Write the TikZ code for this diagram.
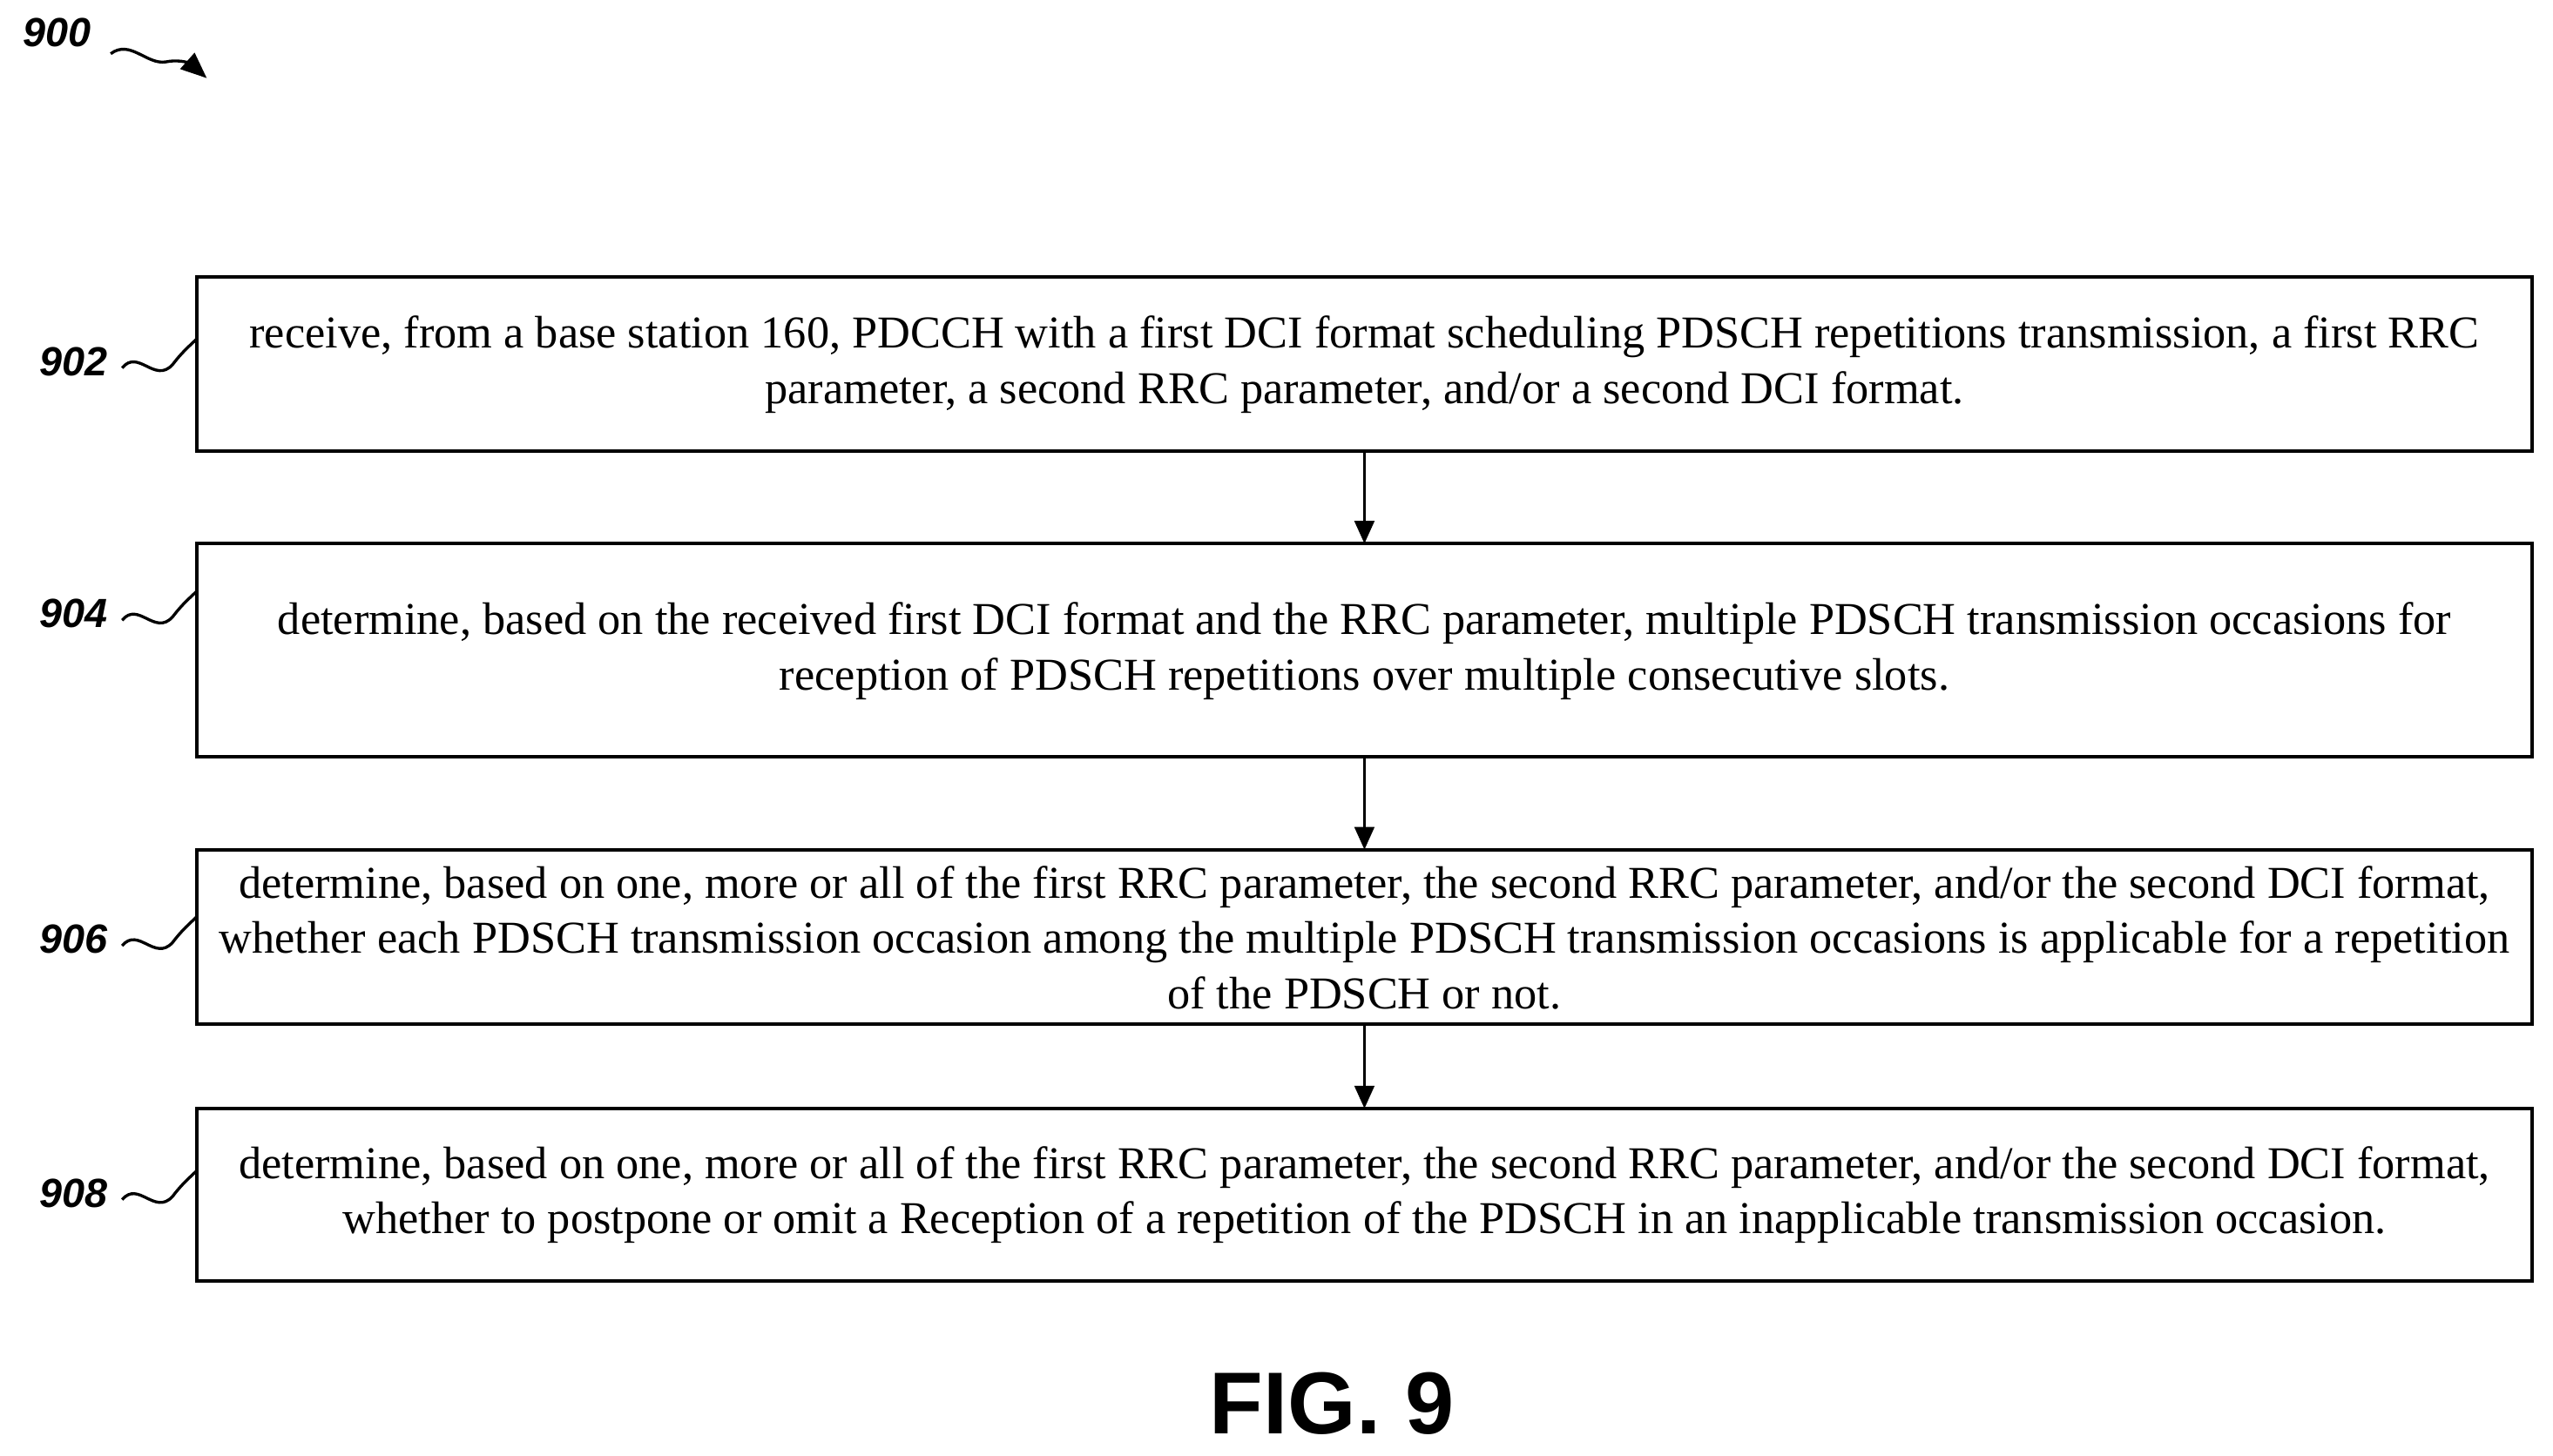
\documentclass[tikz,border=0pt]{standalone}
\usepackage{fontspec}
\setmainfont{Liberation Serif}
\newfontfamily\lab{Liberation Sans}
\usetikzlibrary{arrows.meta}
\begin{document}
\begin{tikzpicture}[x=1pt,y=-1pt,
  box/.style={draw,line width=2pt,inner sep=0pt},
  txt/.style={align=center,font=\fontsize{28}{34}\selectfont},
  lbl/.style={font=\lab\bfseries\itshape\fontsize{25}{28}\selectfont},
  arr/.style={line width=2pt,-{Triangle[length=14pt,width=12pt]}},
  sq/.style={line width=1.8pt}]
\useasboundingbox (0,0) rectangle (1568,894);
\draw[box] (121,170) rectangle (1555,277);
\draw[box] (121,334) rectangle (1555,465);
\draw[box] (121,522) rectangle (1555,629);
\draw[box] (121,681) rectangle (1555,787);
\node[txt] (t1) at (838,224) {receive, from a base station 160, PDCCH with a first DCI format scheduling PDSCH repetitions transmission, a first RRC\\parameter, a second RRC parameter, and/or a second DCI format.};
\node[txt] (t2) at (838,400) {determine, based on the received first DCI format and the RRC parameter, multiple PDSCH transmission occasions for\\reception of PDSCH repetitions over multiple consecutive slots.};
\node[txt] (t3) at (838,576) {determine, based on one, more or all of the first RRC parameter, the second RRC parameter, and/or the second DCI format,\\whether each PDSCH transmission occasion among the multiple PDSCH transmission occasions is applicable for a repetition\\of the PDSCH or not.};
\node[txt] (t4) at (838,734) {determine, based on one, more or all of the first RRC parameter, the second RRC parameter, and/or the second DCI format,\\whether to postpone or omit a Reception of a repetition of the PDSCH in an inapplicable transmission occasion.};
\coordinate (a1) at (838,277); \coordinate (b1) at (838,334);
\coordinate (a2) at (838,465); \coordinate (b2) at (838,522);
\coordinate (a3) at (838,629); \coordinate (b3) at (838,681);
\draw[arr] (a1) -- (b1); \draw[arr] (a2) -- (b2); \draw[arr] (a3) -- (b3);
\node[lbl] (l900) at (35,20) {900};
\node[lbl] (l902) at (45,222) {902};
\node[lbl] (l904) at (45,377) {904};
\node[lbl] (l906) at (45,577) {906};
\node[lbl] (l908) at (45,733) {908};
\node[font=\lab\bfseries\fontsize{54}{60}\selectfont] (fig) at (818,862) {FIG. 9};
\draw[sq,-{Triangle[length=16pt,width=13pt]}] (68,33) .. controls (80,24) and (90,40) .. (102,38) .. controls (112,36) and (118,40) .. (127,48);
\foreach \y in {222,377,577,733}{
  \draw[sq] (75,\y+4) .. controls (85,\y-8) and (95,\y+14) .. (106,\y+2) .. controls (112,\y-6) and (117,\y-10) .. (121,\y-14);
}
\end{tikzpicture}
\end{document}
